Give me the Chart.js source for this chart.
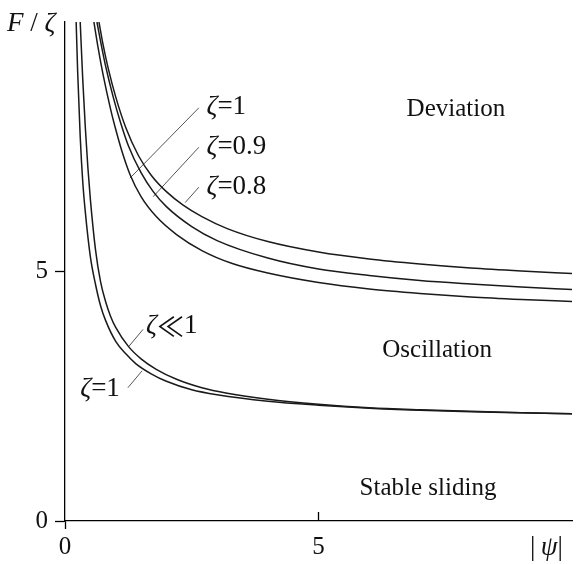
<!DOCTYPE html>
<html>
<head>
<meta charset="utf-8">
<script src="https://cdn.jsdelivr.net/npm/chart.js@4.4.1/dist/chart.umd.min.js"></script>
<style>
  html, body { margin: 0; padding: 0; background: #fff; }
  #wrap { width: 576px; height: 564px; }
</style>
</head>
<body>
<div id="wrap"><canvas id="chart"></canvas></div>
<script>
// ---- data ----
const xTicks = [0, 5];
const yTicks = [0, 5];

// upper family (boundary of deviation)
const zeta08X = [0.67, 0.75, 0.85, 1.0, 1.2, 1.45, 1.7, 2.0, 2.33, 2.7, 3.2, 4.0, 5.0, 6.0, 7.0, 8.0, 9.0, 10];
const zeta08Y = [10, 9.55, 9.08, 8.5, 7.88, 7.32, 6.93, 6.6, 6.33, 6.1, 5.86, 5.6, 5.39, 5.25, 5.15, 5.07, 5.01, 4.96];

const zeta09X = [0.63, 0.7, 0.8, 0.95, 1.1, 1.25, 1.5, 1.74, 2.0, 2.5, 3.0, 4.0, 5.0, 6.0, 7.0, 8.0, 9.0, 10];
const zeta09Y = [10, 9.62, 9.12, 8.5, 7.97, 7.52, 6.98, 6.6, 6.3, 5.9, 5.62, 5.27, 5.05, 4.92, 4.82, 4.75, 4.69, 4.64];

const zeta1X = [0.57, 0.65, 0.75, 0.9, 1.0, 1.12, 1.28, 1.5, 1.8, 2.2, 2.7, 3.3, 4.0, 5.0, 6.0, 7.0, 8.0, 9.0, 10];
const zeta1Y = [10, 9.5, 8.95, 8.25, 7.85, 7.42, 6.95, 6.5, 6.1, 5.74, 5.42, 5.16, 4.97, 4.78, 4.65, 4.56, 4.49, 4.44, 4.40];

// lower family (boundary of stable sliding)
const lowSmallX = [0.3, 0.35, 0.4, 0.45, 0.5, 0.6, 0.7, 0.8, 0.9, 1.0, 1.25, 1.5, 1.8, 2.2, 2.7, 3.2, 4.0, 5.0, 6.0, 7.0, 8.0, 9.0, 10];
const lowSmallY = [10, 8.85, 7.9, 7.1, 6.45, 5.45, 4.8, 4.4, 4.1, 3.88, 3.5, 3.25, 3.04, 2.84, 2.67, 2.56, 2.44, 2.34, 2.27, 2.23, 2.2, 2.17, 2.15];

const lowOneX = [0.22, 0.25, 0.3, 0.35, 0.4, 0.5, 0.6, 0.7, 0.8, 1.0, 1.2, 1.4, 1.7, 2.0, 2.5, 3.0, 4.0, 5.0, 6.0, 7.0, 8.0, 9.0, 10];
const lowOneY = [10, 9.0, 7.7, 6.8, 6.2, 5.3, 4.75, 4.32, 4.02, 3.6, 3.35, 3.15, 2.95, 2.8, 2.63, 2.53, 2.4, 2.32, 2.26, 2.22, 2.19, 2.17, 2.15];

// leader lines from the labels to the curves
const leaderZeta1 = [[2.64, 8.28], [1.28, 6.87]];
const leaderZeta09 = [[2.64, 7.49], [1.74, 6.5]];
const leaderZeta08 = [[2.64, 6.69], [2.37, 6.38]];
const leaderSmall = [[1.54, 3.84], [1.26, 3.5]];
const leaderLowOne = [[1.24, 2.67], [1.52, 3.01]];

// ---- helpers ----
function zip(xs, ys) {
    return xs.map((x, i) => ({ x: x, y: ys[i] }));
}

function curve(xs, ys) {
    return {
        data: zip(xs, ys),
        borderColor: '#1a1a1a',
        borderWidth: 1.5,
        pointRadius: 0,
        cubicInterpolationMode: 'monotone',
        fill: false
    };
}

function leader(pts) {
    return {
        data: pts.map(p => ({ x: p[0], y: p[1] })),
        borderColor: '#555',
        borderWidth: 1,
        pointRadius: 0,
        fill: false
    };
}

const SERIF = '"Liberation Serif", "DejaVu Serif", serif';
const SYMBOL = '"Noto Sans CJK JP", "DejaVu Sans", sans-serif';

// text on the plot, placed in data units; part = [text, italic, symbolFont]
const notes = [
    { parts: [['Deviation', false]], x: 7.71, y: 8.25, size: 25, align: 'center' },
    { parts: [['Oscillation', false]], x: 7.34, y: 3.41, size: 25, align: 'center' },
    { parts: [['Stable sliding', false]], x: 7.16, y: 0.65, size: 25, align: 'center' },
    { parts: [['ζ', true], ['=1', false]], x: 2.79, y: 8.3, size: 27, align: 'left' },
    { parts: [['ζ', true], ['=0.9', false]], x: 2.79, y: 7.49, size: 27, align: 'left' },
    { parts: [['ζ', true], ['=0.8', false]], x: 2.79, y: 6.69, size: 27, align: 'left' },
    { parts: [['ζ', true], ['≪', false, true], ['1', false]], x: 1.6, y: 3.9, size: 27, align: 'left' },
    { parts: [['ζ', true], ['=1', false]], x: 0.3, y: 2.65, size: 27, align: 'left' }
];

function partFont(p, size) {
    return (p[1] ? 'italic ' : '') + size + 'px ' + (p[2] ? SYMBOL : SERIF);
}

function drawParts(ctx, parts, x, y, align, size) {
    let total = 0;
    parts.forEach(p => {
        ctx.font = partFont(p, size);
        total += ctx.measureText(p[0]).width;
    });
    let cx = align === 'center' ? x - total / 2 : x;
    parts.forEach(p => {
        ctx.font = partFont(p, size);
        ctx.fillText(p[0], cx, y);
        cx += ctx.measureText(p[0]).width;
    });
}

const textPlugin = {
    id: 'texts',
    afterDraw(chart) {
        const ctx = chart.ctx;
        const xs = chart.scales.x, ys = chart.scales.y;
        const area = chart.chartArea;
        ctx.save();
        ctx.fillStyle = '#111';
        ctx.textBaseline = 'middle';
        ctx.textAlign = 'left';

        notes.forEach(n => {
            drawParts(ctx, n.parts, xs.getPixelForValue(n.x), ys.getPixelForValue(n.y), n.align, n.size);
        });

        // axis names
        drawParts(ctx, [['F', true], [' / ', false], ['ζ', true]], area.left - 58, area.top + 2, 'left', 27);
        drawParts(ctx, [['|', false], ['\u2009ψ', true], ['|', false]], area.right - 42, area.bottom + 27, 'left', 27);

        // the x tick at 5 points up into the plot
        ctx.strokeStyle = '#000';
        ctx.lineWidth = 1.3;
        xTicks.filter(v => v !== 0).forEach(v => {
            const px = xs.getPixelForValue(v);
            ctx.beginPath();
            ctx.moveTo(px, area.bottom);
            ctx.lineTo(px, area.bottom - 9);
            ctx.stroke();
        });
        ctx.restore();
    }
};

new Chart(document.getElementById('chart'), {
    type: 'line',
    data: {
        datasets: [
            curve(zeta08X, zeta08Y),
            curve(zeta09X, zeta09Y),
            curve(zeta1X, zeta1Y),
            curve(lowSmallX, lowSmallY),
            curve(lowOneX, lowOneY),
            leader(leaderZeta1),
            leader(leaderZeta09),
            leader(leaderZeta08),
            leader(leaderSmall),
            leader(leaderLowOne)
        ]
    },
    options: {
        responsive: true,
        maintainAspectRatio: false,
        animation: false,
        layout: { padding: { top: 15, right: 4, left: 0, bottom: 0 } },
        plugins: {
            legend: { display: false },
            tooltip: { enabled: false }
        },
        scales: {
            x: {
                type: 'linear',
                min: 0,
                max: 10,
                afterBuildTicks: s => { s.ticks = xTicks.map(v => ({ value: v })); },
                afterFit: s => { s.height = 43; },
                border: { color: '#000', width: 1.3 },
                grid: {
                    drawOnChartArea: false,
                    tickLength: 8,
                    tickWidth: 1.3,
                    tickColor: c => (c.tick && c.tick.value === 0 ? '#000' : 'rgba(0,0,0,0)')
                },
                ticks: {
                    color: '#111',
                    padding: 3,
                    maxRotation: 0,
                    font: { family: SERIF, size: 25 },
                    callback: v => String(v)
                }
            },
            y: {
                type: 'linear',
                min: 0,
                max: 10,
                afterBuildTicks: s => { s.ticks = yTicks.map(v => ({ value: v })); },
                afterFit: s => { s.width = 65; },
                border: { color: '#000', width: 1.3 },
                grid: {
                    drawOnChartArea: false,
                    tickLength: 10,
                    tickWidth: 1.3,
                    tickColor: '#000'
                },
                ticks: {
                    color: '#111',
                    padding: 7,
                    font: { family: SERIF, size: 25 },
                    callback: v => String(v)
                }
            }
        }
    },
    plugins: [textPlugin]
});
</script>
</body>
</html>
